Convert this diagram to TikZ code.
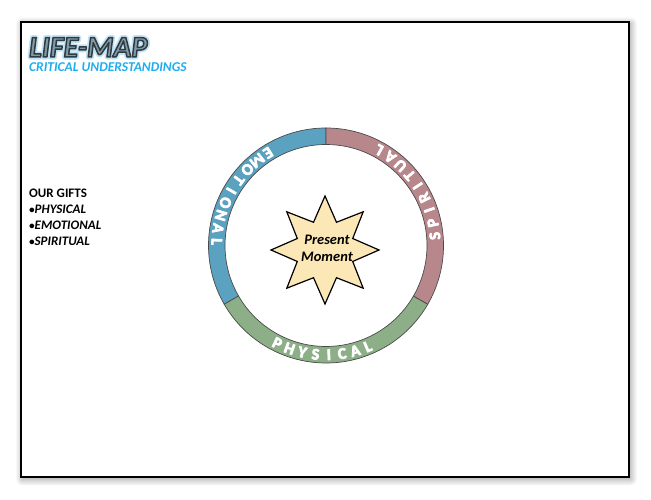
\documentclass[tikz,border=0pt]{standalone}
\usepackage{fontspec}
\setmainfont{Carlito}
\usetikzlibrary{shadows.blur}

\definecolor{emoblue}{HTML}{5BA2C0}
\definecolor{spirpink}{HTML}{B8878C}
\definecolor{physgreen}{HTML}{8CAF88}
\definecolor{starfill}{HTML}{FCE7B7}
\definecolor{subblue}{HTML}{1DAEEF}
\definecolor{titlegray}{HTML}{8399A3}
\definecolor{ringline}{HTML}{4A4A4A}

% text render modes for the outlined, glowing title and the heavy ring letters
\newcommand\glowstroke{\special{pdf:literal direct 1 Tr 5 w 1 j 0.76 0.89 0.96 RG}}
\newcommand\edgestroke{\special{pdf:literal direct 2 Tr 1.5 w 1 j 0.18 0.23 0.25 RG}}
\newcommand\heavywhite{\special{pdf:literal direct 2 Tr 0.7 w 1 j 1 1 1 RG}}
\newcommand\smallbullet{{\fontsize{11}{11}\selectfont\raisebox{0.3pt}{\textbullet}}}

\begin{document}
\begin{tikzpicture}[x=1pt,y=1pt,
  frame/.style={draw=black, line width=1.8pt, fill=white},
  ringseg/.style={draw=ringline, line width=0.7pt},
  ringletter/.style={text=white, font=\fontsize{16}{16}\selectfont\bfseries, inner sep=0pt, anchor=center},
  titlefont/.style={font=\fontsize{30}{30}\selectfont\bfseries\itshape, inner sep=0pt, anchor=base west},
  subfont/.style={font=\fontsize{13.5}{13.5}\selectfont\bfseries\itshape, text=subblue, inner sep=0pt, anchor=base west},
  giftfont/.style={font=\fontsize{13}{16}\selectfont\bfseries, inner sep=0pt, anchor=north west, align=left},
  starshape/.style={draw=black, line width=1.2pt, fill=starfill, line join=miter},
  momentfont/.style={font=\fontsize{14.5}{17}\selectfont\bfseries\itshape, inner sep=0pt, align=center}]

\useasboundingbox (0,0) rectangle (651,500);

% page frame with soft shadow
\draw[frame, blur shadow={shadow xshift=1.5pt, shadow yshift=-2pt, shadow blur radius=7pt, shadow blur steps=12, shadow opacity=45}]
  (21,23) rectangle (629,478);

% title: glow stroke underneath, then outlined fill
\coordinate (tpos) at (29,443);
\node[titlefont, text=titlegray, name=titleglow] at (tpos) {\glowstroke LIFE-MAP};
\node[titlefont, text=titlegray] (title) at (tpos) {\edgestroke LIFE-MAP};
\node[subfont] (subtitle) at (29,428) {CRITICAL UNDERSTANDINGS};

% list of gifts
\node[giftfont] (gifts) at (29,311) {OUR GIFTS\\
  \itshape\smallbullet PHYSICAL\\
  \itshape\smallbullet EMOTIONAL\\
  \itshape\smallbullet SPIRITUAL};

% ring of three segments
\coordinate (c) at (326,254.5);
\def\rout{117.5}
\def\rin{101}
\draw[ringseg, fill=emoblue] ([shift={(90:\rout)}]c) arc[start angle=90, end angle=210, radius=\rout]
  -- ([shift={(210:\rin)}]c) arc[start angle=210, end angle=90, radius=\rin] -- cycle;
\draw[ringseg, fill=physgreen] ([shift={(210:\rout)}]c) arc[start angle=210, end angle=330, radius=\rout]
  -- ([shift={(330:\rin)}]c) arc[start angle=330, end angle=210, radius=\rin] -- cycle;
\draw[ringseg, fill=spirpink] ([shift={(-30:\rout)}]c) arc[start angle=-30, end angle=90, radius=\rout]
  -- ([shift={(90:\rin)}]c) arc[start angle=90, end angle=-30, radius=\rin] -- cycle;

% letters set along the ring, tops toward the centre
\def\rtxt{109.3}
\foreach \ch [count=\i] in {E,M,O,T,I,O,N,A,L} {
  \pgfmathsetmacro\ang{150-28+(\i-1)*7}
  \node[ringletter, rotate=\ang+90, name=emo\i] at ([shift={(\ang:\rtxt)}]c) {\heavywhite\ch};
}
\foreach \ch [count=\i] in {P,H,Y,S,I,C,A,L} {
  \pgfmathsetmacro\ang{268-24.5+(\i-1)*7}
  \node[ringletter, rotate=\ang+90, name=phy\i] at ([shift={(\ang:\rtxt)}]c) {\heavywhite\ch};
}
\foreach \ch [count=\i] in {S,P,I,R,I,T,U,A,L} {
  \pgfmathsetmacro\ang{33-28+(\i-1)*7}
  \node[ringletter, rotate=\ang+90, name=spi\i] at ([shift={(\ang:\rtxt)}]c) {\heavywhite\ch};
}

% eight-pointed star
\coordinate (s) at (325,250);
\draw[starshape] ([shift={(90:54)}]s)
  \foreach \k [evaluate=\k as \r using {mod(\k,2)==0 ? 54 : 30}] in {1,...,15} {
    -- ([shift={(90+\k*22.5:\r)}]s)
  } -- cycle;
\node[momentfont] (moment) at (327,251.5) {Present\\Moment};

\end{tikzpicture}
\end{document}
